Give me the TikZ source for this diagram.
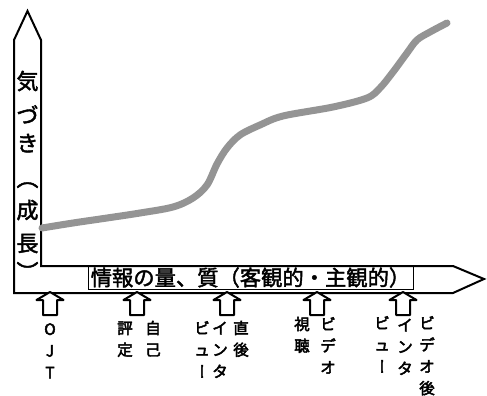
\documentclass[tikz,border=0pt]{standalone}
\usepackage{fontspec}
\usepackage{graphicx}
\newfontfamily\jp[FakeBold=2]{Noto Sans CJK JP}
\newfontfamily\jpl[FakeBold=3]{Noto Sans CJK JP}
\tikzset{
  frame/.style={draw=black, line width=2pt, line join=miter, fill=white},
  uparrow/.style={draw=black, line width=2pt, fill=white, line join=round},
  growth/.style={draw=black!42, line width=7pt, line cap=round, line join=round},
  axisch/.style={font=\jp\fontsize{22}{22}\selectfont, inner sep=0pt, text height=19.36pt, text depth=2.64pt, anchor=center},
  ch/.style={font=\jpl\fontsize{15.5}{15.5}\selectfont, inner sep=0pt, text height=13.64pt, text depth=1.86pt, anchor=center},
  axistext/.style={font=\jp\fontsize{21.3}{21.3}\selectfont, inner sep=0pt, text height=18.74pt, text depth=2.56pt, draw=black, line width=0.5pt, minimum width=325pt, minimum height=23pt, anchor=center}
}
\newcommand\upar[1]{%
  \draw[uparrow] (#1,292) -- (#1+13.5,300) -- (#1+7,300) -- (#1+7,315) -- (#1-7,315) -- (#1-7,300) -- (#1-13.5,300) -- cycle;}
\newcommand\vcol[4]{% name, x, y0, list of char/rotation
  \foreach \c/\r [count=\i] in {#4} {
    \node[ch, rotate=\r] (#1-\i) at (#2, #3+\i*21.7-21.7) {\c};
  }}
\begin{document}
\begin{tikzpicture}[x=1pt, y=-1pt]
\useasboundingbox (0,0) rectangle (487,396);
% L-shaped double axis arrow
\draw[frame] (14,293) -- (14,40) -- (27.5,11) -- (41,40) -- (41,266) -- (453,266) -- (484,279) -- (453,293) -- cycle;
% growth curve
\draw[growth] plot[smooth, tension=0.55] coordinates {(42,228) (73,223) (107,218) (140,213) (173,207) (193,198) (207,185) (217,164) (227,148) (240,135) (260,125) (283,116) (333,107) (367,98) (380,88) (393,72) (407,53) (417,40) (430,32) (447,23)};
% vertical axis label
\node[axisch] (v1) at (27.5,81) {気};
\node[axisch] (v2) at (27.5,115) {づ};
\node[axisch] (v3) at (27.5,143) {き};
\node[axisch] (v4) at (27.5,178) {︵};
\node[axisch] (v5) at (27.5,210) {成};
\node[axisch] (v6) at (27.5,243) {長};
\node[axisch] (v7) at (27.5,272) {︶};
% horizontal axis label
\node[axistext] (h) at (250.5,277.5) {情報の量、質（客観的・主観的）};
% up arrows
\upar{50}
\upar{137}
\upar{227}
\upar{317}
\upar{403}
% labels
\vcol{ojt}{50}{329}{O/0,J/0,T/0}
\vcol{jk}{153}{328}{自/0,己/0}
\vcol{ht}{125}{328}{評/0,定/0}
\vcol{cg}{241}{328}{直/0,後/0}
\vcol{ia}{220}{328}{イ/0,ン/0,タ/0}
\vcol{vb}{202}{328}{ビ/0,ュ/0,ー/-90}
\vcol{vd}{328}{324}{ビ/0,デ/0,オ/0}
\vcol{sc}{302}{324}{視/0,聴/0}
\vcol{vg}{427}{323}{ビ/0,デ/0,オ/0,後/0}
\vcol{ib}{405}{325}{イ/0,ン/0,タ/0}
\vcol{vc}{382}{323}{ビ/0,ュ/0,ー/-90}
\end{tikzpicture}
\end{document}
